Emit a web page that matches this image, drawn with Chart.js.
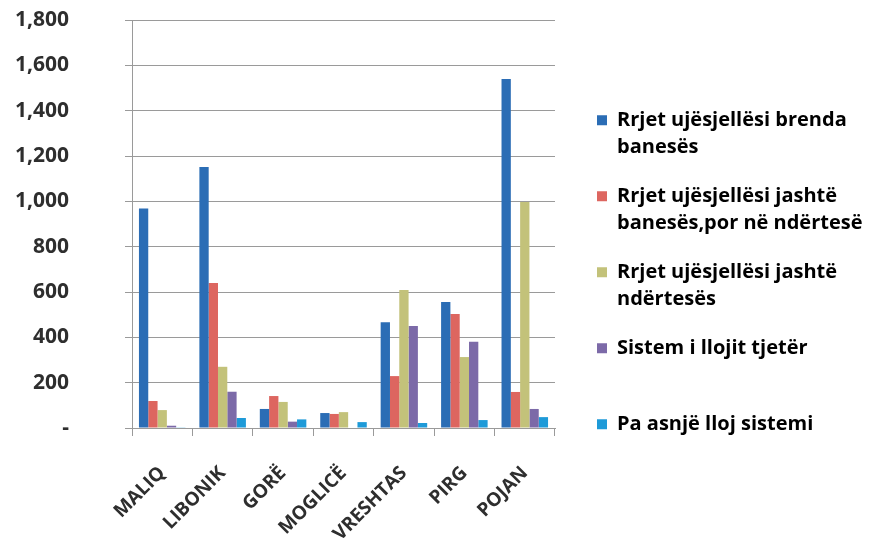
<!DOCTYPE html>
<html>
<head>
<meta charset="utf-8">
<script src="https://cdn.jsdelivr.net/npm/chart.js@4.4.1/dist/chart.umd.min.js"></script>
<style>
  html, body { margin: 0; padding: 0; background: #ffffff; }
  #wrap { width: 870px; height: 544px; position: relative; }
</style>
</head>
<body>
<div id="wrap"><canvas id="c" width="870" height="544"></canvas></div>
<script>
const categories = ['MALIQ', 'LIBONIK', 'GORË', 'MOGLICË', 'VRESHTAS', 'PIRG', 'POJAN'];

const seriesNames = [
  ['Rrjet ujësjellësi brenda', 'banesës'],
  ['Rrjet ujësjellësi jashtë', 'banesës,por në ndërtesë'],
  ['Rrjet ujësjellësi jashtë', 'ndërtesës'],
  ['Sistem i llojit tjetër', ''],
  ['Pa asnjë lloj sistemi']
];

const brendaBanese   = [968, 1152, 84, 66, 467, 556, 1540];
const jashteBanese   = [119, 640, 141, 62, 229, 503, 159];
const jashteNdertese = [79, 270, 115, 70, 609, 313, 997];
const llojTjeter     = [10, 160, 28, 0, 450, 380, 84];
const paSistem       = [3, 44, 38, 26, 22, 35, 48];

const yTicks = [0, 200, 400, 600, 800, 1000, 1200, 1400, 1600, 1800];

const colors = ['#2b6db5', '#dd6660', '#c3c27a', '#7c6aa8', '#1e9ad8'];
const seriesValues = [brendaBanese, jashteBanese, jashteNdertese, llojTjeter, paSistem];

const datasets = seriesValues.map((vals, i) => ({
  label: seriesNames[i].join(' '),
  data: vals,
  backgroundColor: colors[i],
  borderWidth: 0,
  categoryPercentage: 0.77,
  barPercentage: 1.0,
  yAxisID: 'y'
}));

const FONT = '"Open Sans", Lato, sans-serif';
const TXT = '#2e2e2e';
const LEG_SIZE = 20;
const LEG_PAD = 21;
const LEG_BOX = 10;
const LEGEND_LEFT = 576;   // legend block left edge

// measure the legend column width the same way Chart.js does, to place the legend
const mctx = document.createElement('canvas').getContext('2d');
mctx.font = 'bold ' + LEG_SIZE + 'px ' + FONT;
const longestTexts = seriesNames.map(t => t.reduce((a, b) => a.length > b.length ? a : b));
const colW = Math.max(...longestTexts.map(t => LEG_BOX + LEG_SIZE / 2 + mctx.measureText(t).width));
const legendW = LEG_PAD + colW + 10;
const padRight = 870 - LEGEND_LEFT - legendW;

// let the legend draw up to the canvas edge (it clips to its own box otherwise)
const widenLegend = {
  id: 'widenLegend',
  afterLayout(chart) {
    if (chart.legend) {
      chart.legend.right = chart.width;
      chart.legend.width = chart.width - chart.legend.left;
    }
  }
};

new Chart(document.getElementById('c'), {
  type: 'bar',
  data: { labels: categories, datasets: datasets },
  plugins: [widenLegend],
  options: {
    responsive: false,
    animation: false,
    devicePixelRatio: 1,
    layout: { padding: { top: 8, right: padRight, bottom: 0, left: 0 } },
    plugins: {
      tooltip: { enabled: false },
      legend: {
        position: 'right',
        align: 'center',
        maxWidth: 400,
        labels: {
          boxWidth: LEG_BOX,
          boxHeight: LEG_BOX,
          padding: LEG_PAD,
          color: TXT,
          font: { family: FONT, size: LEG_SIZE, weight: 'bold', lineHeight: 1.375 },
          generateLabels: (chart) => chart.data.datasets.map((ds, i) => ({
            text: seriesNames[i],
            fillStyle: colors[i],
            strokeStyle: colors[i],
            lineWidth: 0,
            hidden: false,
            datasetIndex: i
          }))
        }
      }
    },
    scales: {
      x: {
        offset: true,
        grid: { display: true, drawOnChartArea: false, drawTicks: true, tickLength: 8, offset: true, color: '#9a9a9a' },
        border: { display: true, color: '#9a9a9a', width: 1 },
        ticks: {
          minRotation: 45, maxRotation: 45, padding: 26,
          color: TXT,
          font: { family: FONT, size: 19, weight: 'bold' }
        },
        afterFit: (scale) => { scale.height = 116; }
      },
      y: {
        min: 0, max: 1800,
        afterBuildTicks: (scale) => { scale.ticks = yTicks.map(v => ({ value: v })); },
        grid: { color: '#9a9a9a', drawTicks: true, tickLength: 7 },
        border: { display: true, color: '#9a9a9a', width: 1 },
        ticks: {
          padding: 56,
          color: TXT,
          font: { family: FONT, size: 21, weight: 'bold' },
          callback: (v) => v === 0 ? '-' : v.toLocaleString('en-US')
        },
        afterFit: (scale) => { scale.width = 132; scale.paddingTop = 20; scale.paddingBottom = 0; }
      },
      y2: {
        position: 'right',
        display: true,
        grid: { display: false, drawTicks: false },
        border: { display: false },
        ticks: { display: false },
        afterFit: (scale) => { scale.width = 21; scale.paddingTop = 0; scale.paddingBottom = 0; }
      }
    }
  }
});
</script>
</body>
</html>
